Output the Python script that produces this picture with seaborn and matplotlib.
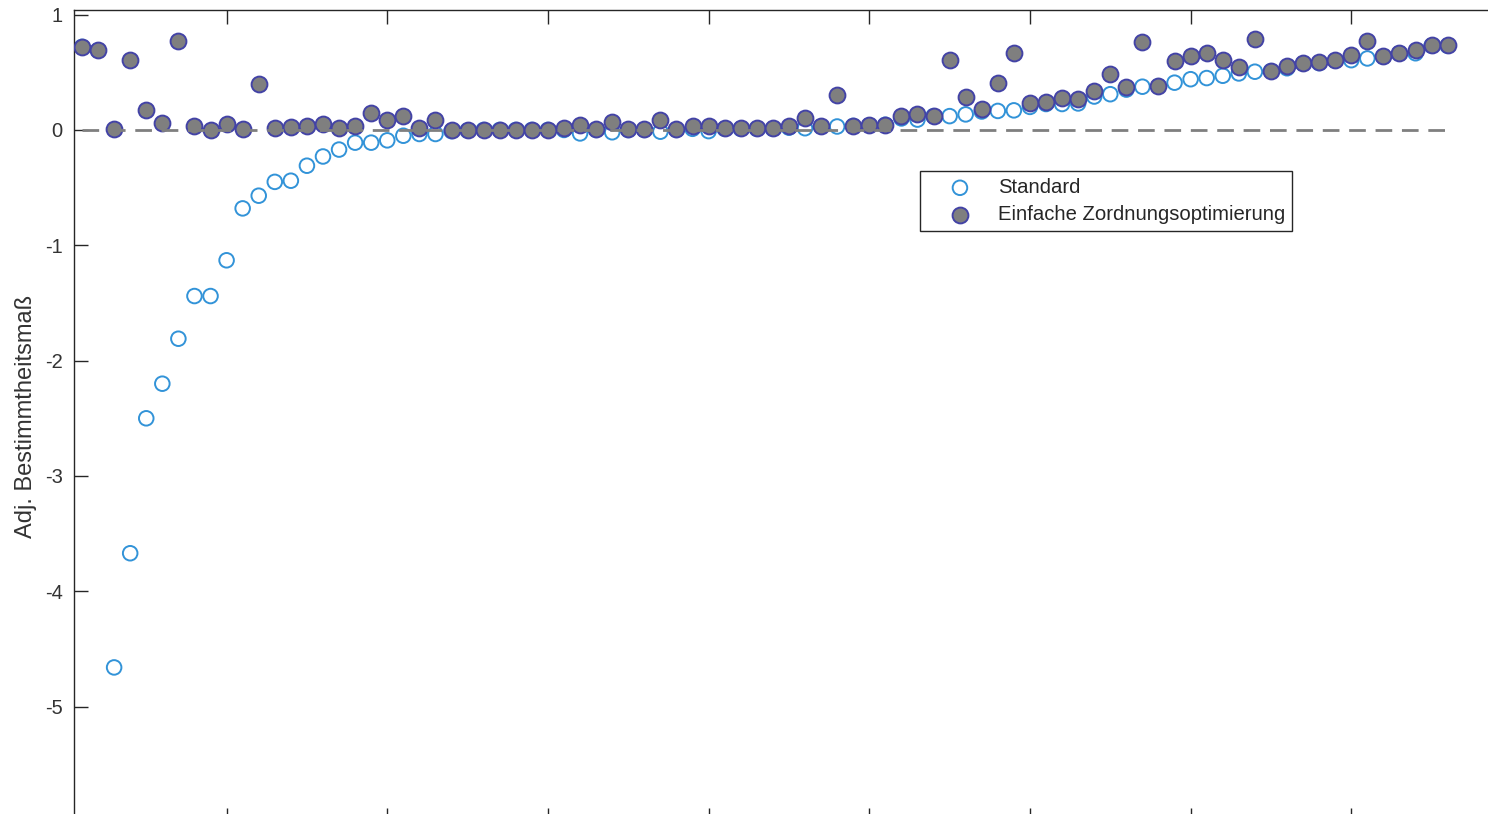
import numpy as np
import pandas as pd
import matplotlib
matplotlib.use('Agg')
import matplotlib.pyplot as plt
import seaborn as sns

# values (index 1..86)
standard = [
    0.72, 0.69, -4.66, -3.67, -2.50, -2.20, -1.81, -1.44, -1.44, -1.13,
    -0.68, -0.57, -0.45, -0.44, -0.31, -0.23, -0.17, -0.11, -0.11, -0.09,
    -0.05, -0.035, -0.035, -0.01, -0.005, 0.0, 0.0, 0.0, 0.0, 0.0,
    0.0, -0.03, 0.0, -0.02, 0.0, 0.0, -0.015, 0.0, 0.01, -0.01,
    0.01, 0.01, 0.01, 0.01, 0.02, 0.015, 0.03, 0.03, 0.035, 0.04,
    0.045, 0.10, 0.09, 0.12, 0.12, 0.135, 0.16, 0.165, 0.17, 0.20,
    0.225, 0.225, 0.23, 0.29, 0.31, 0.35, 0.375, 0.38, 0.41, 0.44,
    0.45, 0.47, 0.49, 0.505, 0.51, 0.535, 0.575, 0.58, 0.60, 0.605,
    0.62, 0.635, 0.665, 0.665, 0.73, 0.73,
]
optimiert = [
    0.72, 0.69, 0.005, 0.61, 0.17, 0.06, 0.77, 0.035, 0.0, 0.05,
    0.005, 0.40, 0.015, 0.03, 0.035, 0.05, 0.02, 0.035, 0.145, 0.087,
    0.124, 0.015, 0.09, 0.0, 0.0, 0.0, 0.0, 0.0, 0.0, 0.0,
    0.015, 0.04, 0.005, 0.065, 0.01, 0.005, 0.09, 0.005, 0.035, 0.035,
    0.015, 0.015, 0.015, 0.015, 0.035, 0.10, 0.035, 0.30, 0.035, 0.045,
    0.045, 0.12, 0.135, 0.12, 0.61, 0.29, 0.18, 0.405, 0.67, 0.23,
    0.245, 0.275, 0.265, 0.34, 0.485, 0.37, 0.76, 0.385, 0.60, 0.64,
    0.665, 0.61, 0.545, 0.79, 0.515, 0.555, 0.58, 0.585, 0.605, 0.65,
    0.775, 0.64, 0.67, 0.69, 0.735, 0.735,
]
labels = ['Standard', 'Einfache Zordnungsoptimierung']
y_ticks = [-5, -4, -3, -2, -1, 0, 1]
x_ticks = [10, 20, 30, 40, 50, 60, 70, 80, 90]

idx = np.arange(1, len(standard) + 1)
df = pd.DataFrame({'idx': idx, 'standard': standard, 'optimiert': optimiert})

sns.set_style('white')
plt.rcParams['font.family'] = ['Liberation Sans', 'DejaVu Sans']

fig = plt.figure(figsize=(14.88, 8.14), dpi=100)
# axes run past the right and bottom edge like the cropped reference
ax = fig.add_axes([0.0497, -0.0098, 0.9718, 0.9975])

sns.scatterplot(data=df, x='idx', y='standard', ax=ax, marker='o', s=110,
                facecolor='none', edgecolor='#3293d8', linewidth=1.4,
                label=labels[0], zorder=2)
sns.scatterplot(data=df, x='idx', y='optimiert', ax=ax, marker='o', s=130,
                color='#7f7f7f', edgecolor='#4343a6', linewidth=1.4,
                label=labels[1], zorder=3)

ax.hlines(0, df['idx'].min(), df['idx'].max(), colors='#7f7f7f',
          linestyles=(0, (6, 3.5)), linewidth=2.0, zorder=4)

ax.set_xlim(0.5, 90.5)
ax.set_ylim(-6, 1.04)
ax.set_xticks(x_ticks)
ax.set_xticklabels([])
ax.set_yticks(y_ticks)
ax.set_yticklabels([str(t) for t in y_ticks])
ax.set_xlabel('')
ax.set_ylabel('Adj. Bestimmtheitsmaß', fontsize=17, color='#333333', labelpad=6)
ax.tick_params(direction='in', length=10, width=1, colors='#262626',
               labelsize=14.5, pad=8, top=True, right=True, bottom=True, left=True)
for lab in ax.get_yticklabels():
    lab.set_color('#333333')
for sp in ax.spines.values():
    sp.set_color('#262626')
    sp.set_linewidth(1.0)

ax.legend(loc='upper left', bbox_to_anchor=(920 / 1488, 1 - 171 / 814),
          bbox_transform=fig.transFigure, borderaxespad=0, fancybox=False,
          edgecolor='#262626', framealpha=1, fontsize=14.6,
          handlelength=3.24, handletextpad=0.25, borderpad=0.35,
          labelspacing=0.4)
ax.get_legend().get_frame().set_linewidth(1.0)
for t in ax.get_legend().get_texts():
    t.set_color('#262626')

fig.savefig('out.png', dpi=100)
plt.close(fig)
